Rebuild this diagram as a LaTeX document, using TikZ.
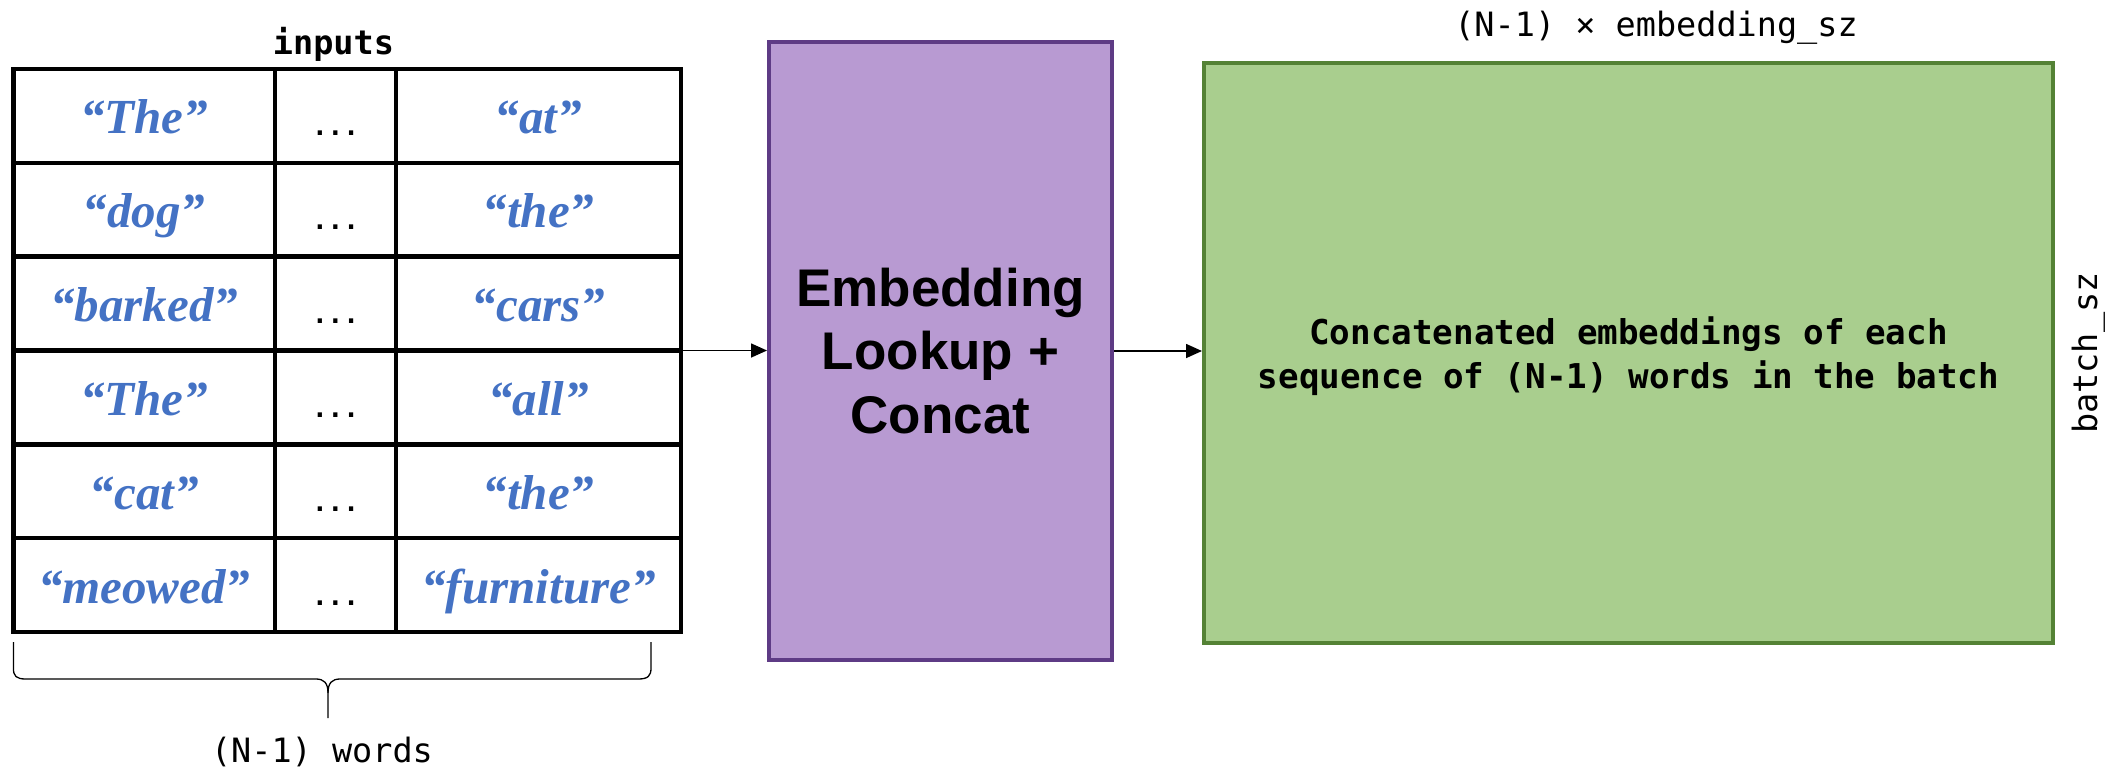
\documentclass[tikz,border=0pt]{standalone}
\usepackage{fontspec}
\usetikzlibrary{arrows.meta}
\newfontfamily\monofont{DejaVu Sans Mono}
\newfontfamily\headfont{Liberation Sans}
\newfontfamily\wordfont{Liberation Serif}
\definecolor{embfill}{HTML}{B89AD2}
\definecolor{embedge}{HTML}{5E3B85}
\definecolor{outfill}{HTML}{A9CE8E}
\definecolor{outedge}{HTML}{548235}
\definecolor{wordblue}{HTML}{4472C4}
\begin{document}
\begin{tikzpicture}[x=1pt,y=1pt,
  cell/.style={draw=black,line width=4.5pt,minimum height=93.83pt,inner sep=0pt,outer sep=0pt},
  word/.style={anchor=base,text=wordblue,font=\wordfont\bfseries\itshape\fontsize{49}{58}\selectfont,inner sep=0pt},
  gap/.style={anchor=base,font=\monofont\bfseries\fontsize{26}{30}\selectfont,inner sep=0pt},
  label/.style={font=\monofont\fontsize{33.5}{40}\selectfont,inner sep=0pt},
  conn/.style={draw=black,line width=1.6pt,-{Triangle[length=16pt,width=14pt]}},
  bracepath/.style={draw=black,line width=1.3pt,line join=round}]
\useasboundingbox (0,0) rectangle (2114,-769);

% header above the table
\node[label,anchor=base,font=\monofont\bfseries\fontsize{33.5}{40}\selectfont] (inlab) at (333.5,-54) {inputs};

% input table: first word, elided middle, last word
\node[minimum width=667.6pt,minimum height=563pt,inner sep=0pt,outer sep=0pt] (tbl) at (347.2,-350.5) {};
\foreach [count=\i] \a/\b in {The/at,dog/the,barked/cars,The/all,cat/the,meowed/furniture}{
  \pgfmathsetmacro\yc{-69-(\i-0.5)*93.83}
  \node[cell,minimum width=261.6pt] (l\i) at (144.2,\yc) {};
  \node[cell,minimum width=121pt] (m\i) at (335.5,\yc) {};
  \node[cell,minimum width=285pt] (r\i) at (538.5,\yc) {};
  \node[word] (wl\i) at (144.2,\yc-18) {“\a”};
  \node[gap] (wm\i) at (335.5,\yc-20) {...};
  \node[word] (wr\i) at (538.5,\yc-18) {“\b”};
}

% brace under the table
\draw[bracepath] (13.4,-642) -- (13.4,-668) .. controls (13.4,-676) and (16,-679) .. (26,-679)
  -- (316,-679) .. controls (324,-679) and (328,-683) .. (328,-693) -- (328,-718);
\draw[bracepath] (651,-642) -- (651,-668) .. controls (651,-676) and (648,-679) .. (638,-679)
  -- (340,-679) .. controls (332,-679) and (328,-683) .. (328,-693);
\node[label,anchor=base] (wordslab) at (322,-762) {(N-1) words};

% embedding lookup block
\node[draw=embedge,fill=embfill,line width=4pt,minimum width=343pt,minimum height=618pt,
  align=center,font=\headfont\bfseries\fontsize{53}{63.5}\selectfont] (embed) at (940.5,-351)
  {Embedding\\Lookup +\\Concat};

% output block
\node[draw=outedge,fill=outfill,line width=4pt,minimum width=849pt,minimum height=580.5pt] (out) at (1628.5,-352.75) {};
\node[align=center,inner sep=0pt,font=\monofont\bfseries\fontsize{34.2}{44}\selectfont] (outtext) at (1628.5,-356)
  {Concatenated embeddings of each\\sequence of (N-1) words in the batch};
\node[label,anchor=base] (widthlab) at (1656,-36) {(N-1) × embedding\_sz};
\node[label,anchor=base,rotate=90] (heightlab) at (2097,-353) {batch\_sz};

% connectors
\draw[conn] (tbl.east) -- (tbl.east -| embed.west);
\draw[conn] (embed.east) -- (embed.east -| out.west);
\end{tikzpicture}
\end{document}
